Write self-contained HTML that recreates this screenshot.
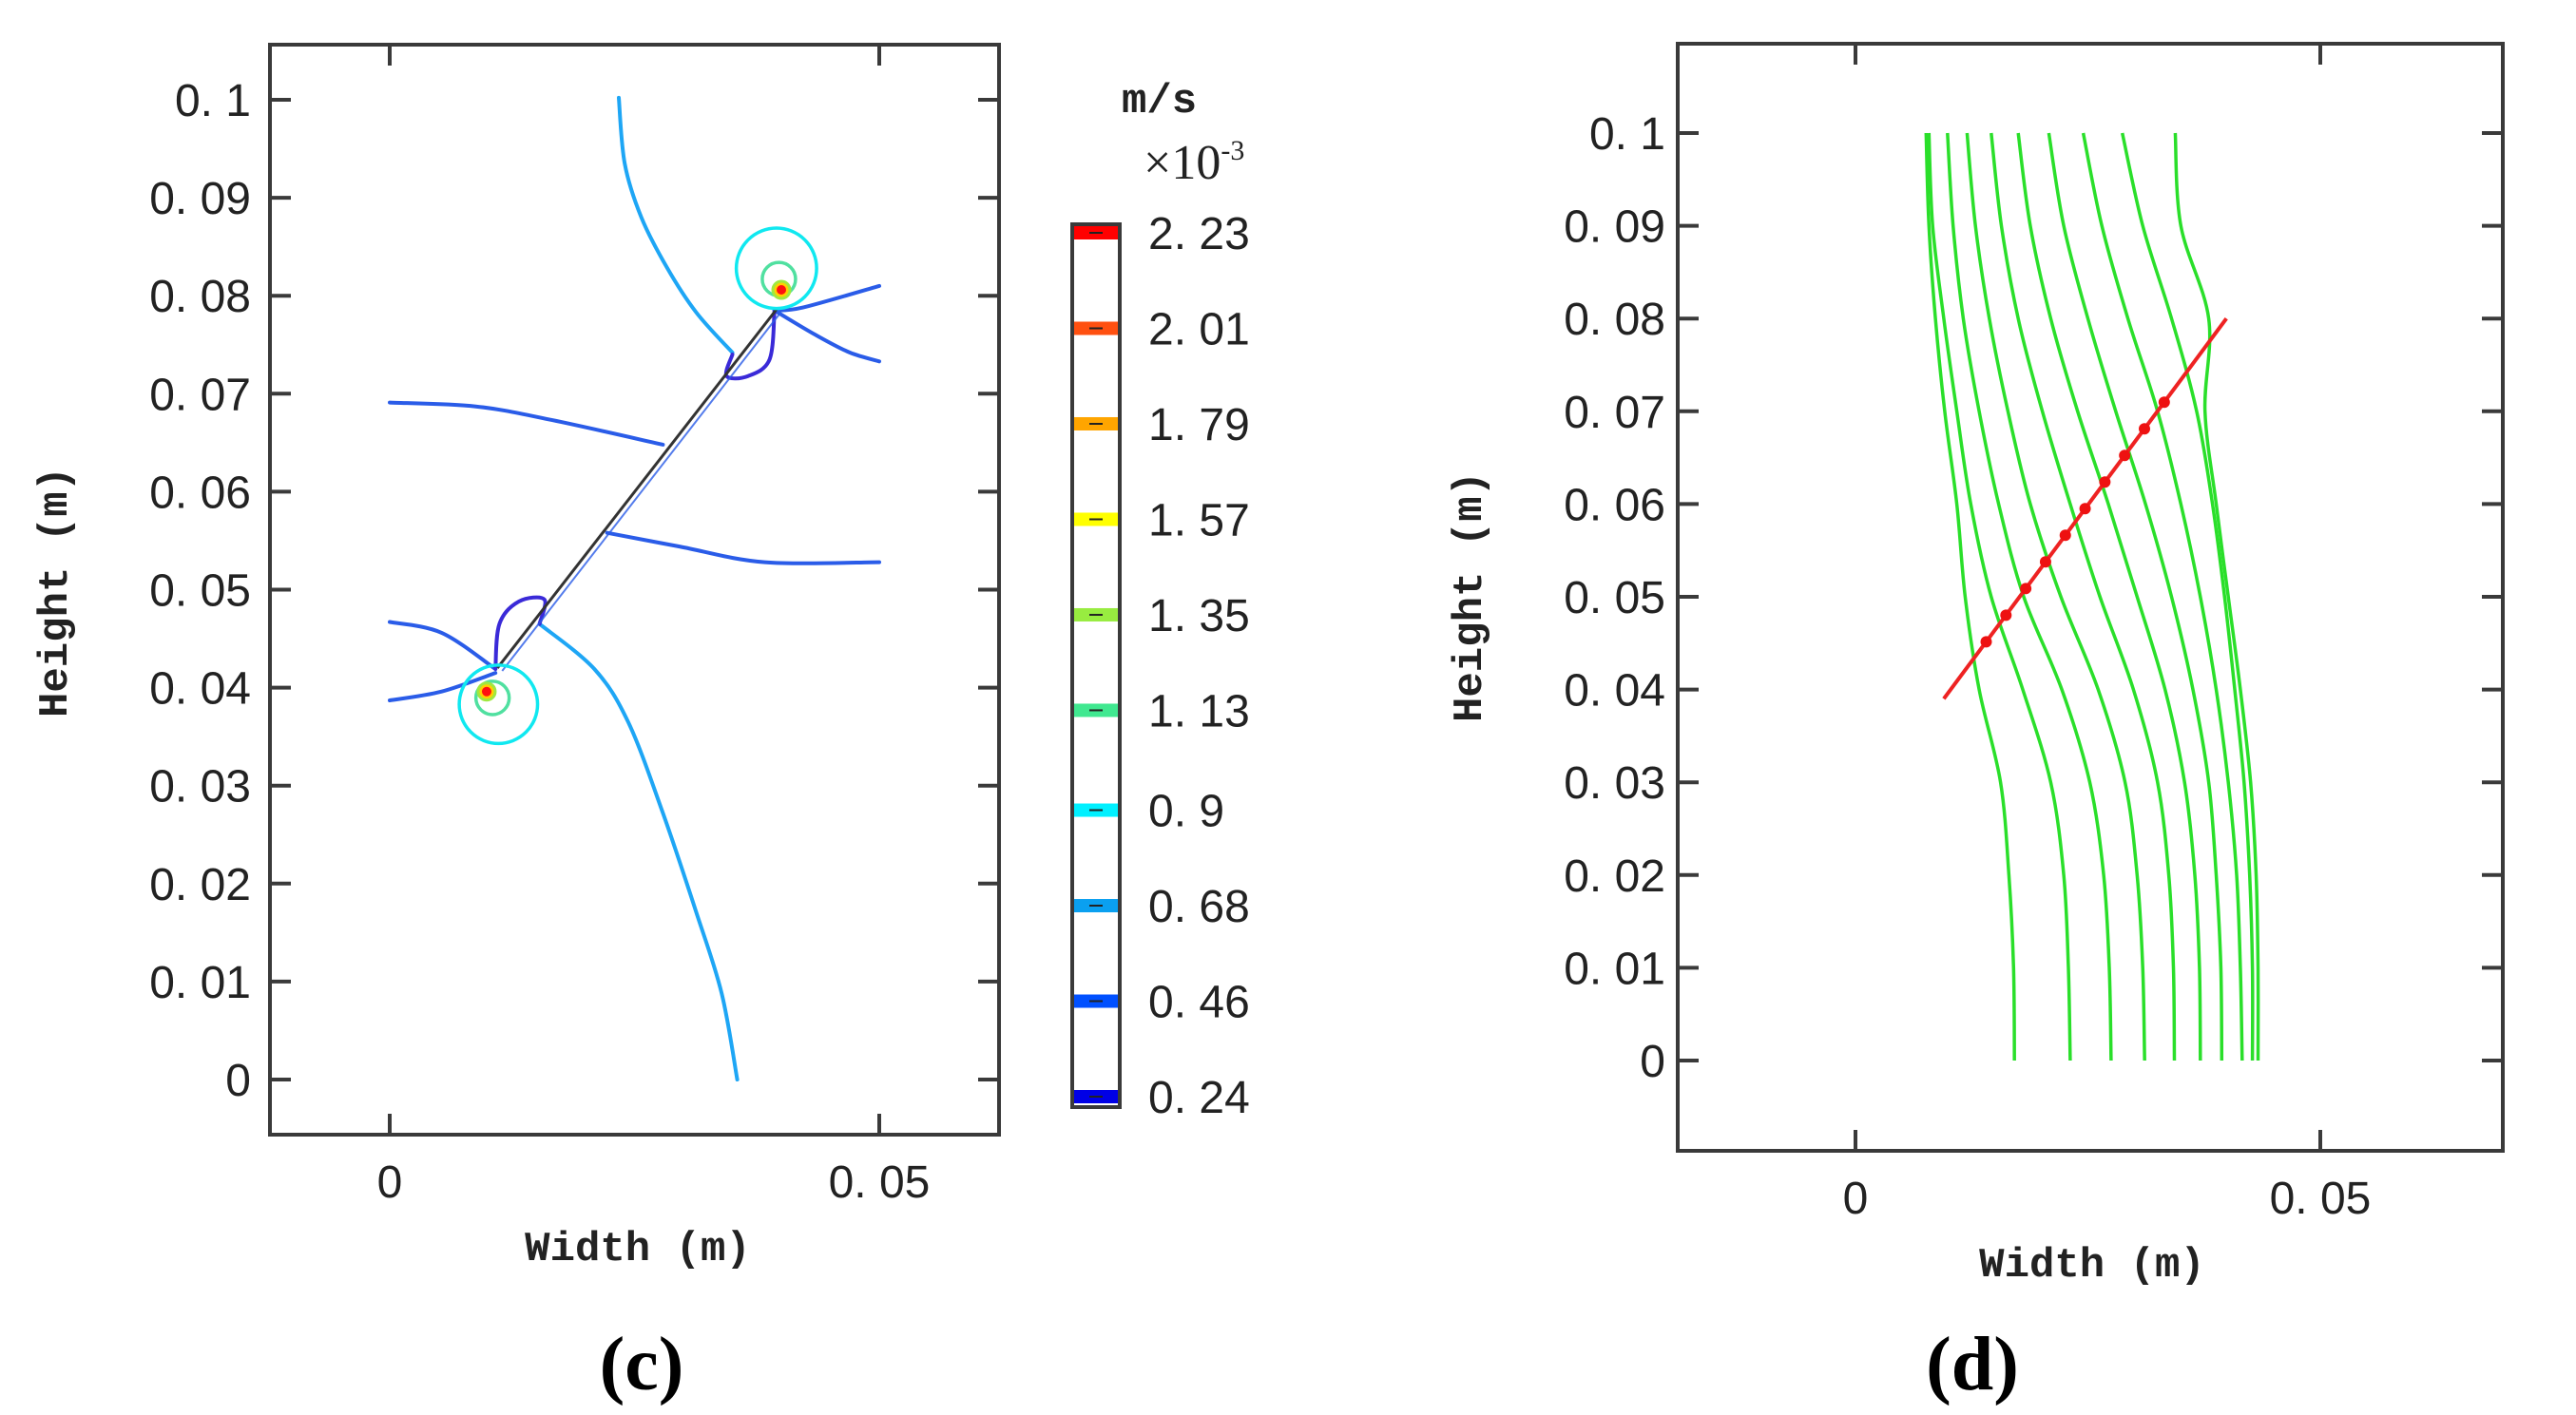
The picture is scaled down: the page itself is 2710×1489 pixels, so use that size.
<!DOCTYPE html>
<html><head><meta charset="utf-8">
<style>
html,body{margin:0;padding:0;background:#fff;}
svg{display:block;}
.tk{font-family:"Liberation Sans",sans-serif;font-size:48px;fill:#222;}
.lab{font-family:"Liberation Mono",monospace;font-weight:bold;font-size:44px;fill:#222;}
.pl{font-family:"Liberation Serif",serif;font-weight:bold;font-size:80px;fill:#000;}
</style></head>
<body>
<svg id="fig" width="2710" height="1489" viewBox="0 0 2710 1489" xmlns="http://www.w3.org/2000/svg">
<g id="left"></g>
<g id="right"></g>
</svg>
<script>
// ---------- data ----------
const yTicks = [0,0.01,0.02,0.03,0.04,0.05,0.06,0.07,0.08,0.09,0.1];
const yTickLabels = ["0","0. 01","0. 02","0. 03","0. 04","0. 05","0. 06","0. 07","0. 08","0. 09","0. 1"];
const xTicks = [0,0.05];
const xTickLabels = ["0","0. 05"];
const cbLevels = [0.24,0.46,0.68,0.9,1.13,1.35,1.57,1.79,2.01,2.23];
const cbLabels = ["0. 24","0. 46","0. 68","0. 9","1. 13","1. 35","1. 57","1. 79","2. 01","2. 23"];
const cbColors = ["#0000e6","#0050ff","#0aa0f0","#00f0ff","#40e890","#98ec40","#ffff00","#ffa500","#ff5010","#ff0000"];
const crackC = [[0.0110,0.0420],[0.0395,0.0786]];
// contour lines (x,y in m)
const c068a = [[0.0234,0.1002],[0.0240,0.0935],[0.0257,0.0880],[0.0283,0.0829],[0.0313,0.0783],[0.0350,0.0742]];
const c068b = [[0.0153,0.0465],[0.0209,0.0419],[0.0244,0.0364],[0.0279,0.0272],[0.0313,0.0171],[0.0339,0.0088],[0.0355,0.0000]];
const c046a = [[0.0000,0.0691],[0.0088,0.0687],[0.0166,0.0673],[0.0279,0.0648]];
const c046b = [[0.0222,0.0558],[0.0296,0.0544],[0.0383,0.0528],[0.0500,0.0528]];
const c046c = [[0.0000,0.0467],[0.0053,0.0456],[0.0108,0.0419]];
const c046d = [[0.0000,0.0387],[0.0053,0.0396],[0.0108,0.0415]];
const c046e = [[0.0393,0.0785],[0.0422,0.0788],[0.0500,0.0810]];
const c046f = [[0.0393,0.0785],[0.0435,0.0760],[0.0470,0.0742],[0.0500,0.0733]];
const c024a = [[0.0393,0.0785],[0.0388,0.0735],[0.0366,0.0718],[0.0344,0.0718],[0.0350,0.0740]];
const c024b = [[0.0108,0.0419],[0.0112,0.0465],[0.0132,0.0488],[0.0158,0.0490],[0.0153,0.0465]];
const tipCentersX = [0.0395,0.0111];
const tipCentersY = [0.0828,0.0383];
const cyanR = [0.0041,0.0040];
const greenR = [0.0017,0.0017];
const hotX = [0.0400,0.0099];
const hotY = [0.0806,0.0396];
// panel d streamlines: x at shared y levels
const sLevels = [0.1,0.09,0.08,0.07,0.06,0.05,0.04,0.03,0.02,0.01,0.0];
const s1 = [0.0076,0.0079,0.0086,0.0096,0.0109,0.0118,0.0133,0.0156,0.0165,0.0170,0.0171];
const s2 = [0.0079,0.0083,0.0095,0.0109,0.0124,0.0146,0.0180,0.0210,0.0224,0.0229,0.0231];
const s3 = [0.0099,0.0105,0.0116,0.0133,0.0154,0.0181,0.0222,0.0252,0.0267,0.0273,0.0275];
const s4 = [0.0120,0.0129,0.0144,0.0164,0.0188,0.0221,0.0261,0.0290,0.0303,0.0309,0.0311];
const s5 = [0.0146,0.0157,0.0175,0.0201,0.0231,0.0263,0.0299,0.0325,0.0337,0.0342,0.0343];
const s6 = [0.0175,0.0188,0.0210,0.0239,0.0272,0.0303,0.0333,0.0354,0.0365,0.0370,0.0371];
const s7 = [0.0208,0.0224,0.0250,0.0280,0.0312,0.0340,0.0363,0.0380,0.0388,0.0393,0.0394];
const s8 = [0.0245,0.0265,0.0293,0.0325,0.0350,0.0371,0.0388,0.0401,0.0410,0.0414,0.0416];
const s9 = [0.0287,0.0309,0.0340,0.0367,0.0384,0.0397,0.0408,0.0418,0.0424,0.0427,0.0427];
const s10 = [0.0344,0.0350,0.0380,0.0376,0.0388,0.0401,0.0414,0.0425,0.0431,0.0433,0.0433];
const crackD = [[0.0095,0.0390],[0.0399,0.0800]];
const crackDotsT = [0.15,0.22,0.29,0.36,0.43,0.50,0.57,0.64,0.71,0.78];

// ---------- helpers ----------
const NS="http://www.w3.org/2000/svg";
function mk(tag,parent,attrs){const e=document.createElementNS(NS,tag);for(const k in attrs)e.setAttribute(k,attrs[k]);parent.appendChild(e);return e;}
function smooth(pts){
  if(pts.length<3){return "M"+pts.map(p=>p[0].toFixed(1)+","+p[1].toFixed(1)).join(" L");}
  let d="M"+pts[0][0].toFixed(1)+","+pts[0][1].toFixed(1);
  for(let i=0;i<pts.length-1;i++){
    const p0=pts[Math.max(0,i-1)],p1=pts[i],p2=pts[i+1],p3=pts[Math.min(pts.length-1,i+2)];
    const c1=[p1[0]+(p2[0]-p0[0])/6,p1[1]+(p2[1]-p0[1])/6];
    const c2=[p2[0]-(p3[0]-p1[0])/6,p2[1]-(p3[1]-p1[1])/6];
    d+=" C"+c1[0].toFixed(1)+","+c1[1].toFixed(1)+" "+c2[0].toFixed(1)+","+c2[1].toFixed(1)+" "+p2[0].toFixed(1)+","+p2[1].toFixed(1);
  }
  return d;
}

// ---------- panel c ----------
const L=document.getElementById('left');
const lx=v=>410+v*10300, ly=v=>1136-v*10310;
const LF={x0:284,x1:1051,y0:47,y1:1194};
function axes(G,F,fx,fy,labRight,xLabY){
  const fr=mk('rect',G,{x:F.x0,y:F.y0,width:F.x1-F.x0,height:F.y1-F.y0,fill:'none',stroke:'#3a3a3a','stroke-width':4});
  
  
  yTicks.forEach((v,i)=>{
    const y=fy(v);
    const t1=mk('line',G,{x1:F.x0,y1:y,x2:F.x0+22,y2:y,stroke:'#3a3a3a','stroke-width':4});
    
    
    mk('line',G,{x1:F.x1,y1:y,x2:F.x1-22,y2:y,stroke:'#3a3a3a','stroke-width':4});
    const t=mk('text',G,{x:labRight,y:y+17,'text-anchor':'end',class:'tk'});
    t.textContent=yTickLabels[i];
    
    
  });
  xTicks.forEach((v,i)=>{
    const x=fx(v);
    const t1=mk('line',G,{x1:x,y1:F.y1,x2:x,y2:F.y1-22,stroke:'#3a3a3a','stroke-width':4});
    
    
    mk('line',G,{x1:x,y1:F.y0,x2:x,y2:F.y0+22,stroke:'#3a3a3a','stroke-width':4});
    const t=mk('text',G,{x:x,y:xLabY,'text-anchor':'middle',class:'tk'});
    t.textContent=xTickLabels[i];
    
    
  });
}
axes(L,LF,lx,ly,264,1260);
function poly(G,arr,fx,fy,color,w,name){
  const p=mk('path',G,{d:smooth(arr.map(q=>[fx(q[0]),fy(q[1])])),fill:'none',stroke:color,'stroke-width':w,'stroke-linecap':'round'});
  
  
  return p;
}
const col068="#1ea6f5", col046="#2a5ce8", col024="#3a2ad8";
poly(L,c068a,lx,ly,col068,4,'contour-0-68-upper');
poly(L,c068b,lx,ly,col068,4,'contour-0-68-lower');
poly(L,c046a,lx,ly,col046,4,'contour-0-46-left-upper');
poly(L,c046b,lx,ly,col046,4,'contour-0-46-right-middle');
poly(L,c046c,lx,ly,col046,4,'contour-0-46-left-lower');
poly(L,c046d,lx,ly,col046,4,'contour-0-46-left-bottom');
poly(L,c046e,lx,ly,col046,4,'contour-0-46-right-top');
poly(L,c046f,lx,ly,col046,4,'contour-0-46-right-upper');
poly(L,c024a,lx,ly,col024,4,'contour-0-24-upper-loop');
poly(L,c024b,lx,ly,col024,4,'contour-0-24-lower-loop');
// crack
const cr=mk('line',L,{x1:lx(crackC[0][0]),y1:ly(crackC[0][1]),x2:lx(crackC[1][0]),y2:ly(crackC[1][1]),stroke:'#333','stroke-width':3});


mk('line',L,{x1:lx(crackC[0][0])+5,y1:ly(crackC[0][1])+3,x2:lx(crackC[1][0])+3,y2:ly(crackC[1][1])+5,stroke:'#2a5ce8','stroke-width':2,opacity:0.8});
for(let i=0;i<tipCentersX.length;i++){
  const cx=lx(tipCentersX[i]),cy=ly(tipCentersY[i]);
  const c1=mk('ellipse',L,{cx:cx,cy:cy,rx:cyanR[i]*10300,ry:cyanR[i]*10310,fill:'none',stroke:'#10e8f0','stroke-width':3.5});
  
  
  const hx=lx(hotX[i]),hy=ly(hotY[i]);
  const c2=mk('ellipse',L,{cx:(cx+hx)/2,cy:(cy+hy)/2,rx:greenR[i]*10300,ry:greenR[i]*10310,fill:'none',stroke:'#50e0a0','stroke-width':3.5});
  
  
  mk('circle',L,{cx:hx,cy:hy,r:9,fill:'#ffd000',stroke:'#a0e840','stroke-width':3});
  const c3=mk('circle',L,{cx:hx,cy:hy,r:5,fill:'#ff1010'});
  
  
}
// colorbar
const cy=v=>1154-(v-0.24)/(2.23-0.24)*(1154-245);
const cbr=mk('rect',L,{x:1128,y:236,width:50,height:929,fill:'#fff',stroke:'#3a3a3a','stroke-width':4});


cbLevels.forEach((v,i)=>{
  const b=mk('rect',L,{x:1130,y:cy(v)-7,width:46,height:14,fill:cbColors[i]});
  
  
  mk('line',L,{x1:1146,y1:cy(v),x2:1160,y2:cy(v),stroke:'#222','stroke-width':2});
  const t=mk('text',L,{x:1208,y:cy(v)+17,class:'tk'});
  t.textContent=cbLabels[i];
  
  
});
let t=mk('text',L,{x:1180,y:118,class:'lab','font-size':'40'});t.textContent="m/s";


t=mk('text',L,{x:1203,y:188,style:'font-family:"Liberation Serif",serif;font-size:52px;fill:#222'});
t.innerHTML='×10<tspan dy="-20" font-size="30">-3</tspan>';


t=mk('text',L,{x:671,y:1326,'text-anchor':'middle',class:'lab'});t.textContent="Width (m)";


t=mk('text',L,{x:0,y:0,'text-anchor':'middle',class:'lab',transform:'translate(70,623) rotate(-90)'});t.textContent="Height (m)";


t=mk('text',L,{x:675,y:1462,'text-anchor':'middle',class:'pl'});t.textContent="(c)";



// ---------- panel d ----------
const R=document.getElementById('right');
const rx=v=>1952+v*9780, ry=v=>1116-v*9760;
axes(R,{x0:1765,x1:2633,y0:46,y1:1211},rx,ry,1752,1277);
[s1,s2,s3,s4,s5,s6,s7,s8,s9,s10].forEach((s,k)=>{
  const pts=s.map((x,i)=>[rx(x),ry(sLevels[i])]);
  const p=mk('path',R,{d:smooth(pts),fill:'none',stroke:'#2adf2a','stroke-width':3.5});
  
  
});
const cd=mk('line',R,{x1:rx(crackD[0][0]),y1:ry(crackD[0][1]),x2:rx(crackD[1][0]),y2:ry(crackD[1][1]),stroke:'#ee2222','stroke-width':4});


crackDotsT.forEach(f=>{
  const x=crackD[0][0]+f*(crackD[1][0]-crackD[0][0]), y=crackD[0][1]+f*(crackD[1][1]-crackD[0][1]);
  const d=mk('circle',R,{cx:rx(x),cy:ry(y),r:6,fill:'#ee1111'});
  
  
});
t=mk('text',R,{x:2201,y:1343,'text-anchor':'middle',class:'lab'});t.textContent="Width (m)";


t=mk('text',R,{x:0,y:0,'text-anchor':'middle',class:'lab',transform:'translate(1558,628) rotate(-90)'});t.textContent="Height (m)";


t=mk('text',R,{x:2075,y:1462,'text-anchor':'middle',class:'pl'});t.textContent="(d)";


</script>
</body></html>
